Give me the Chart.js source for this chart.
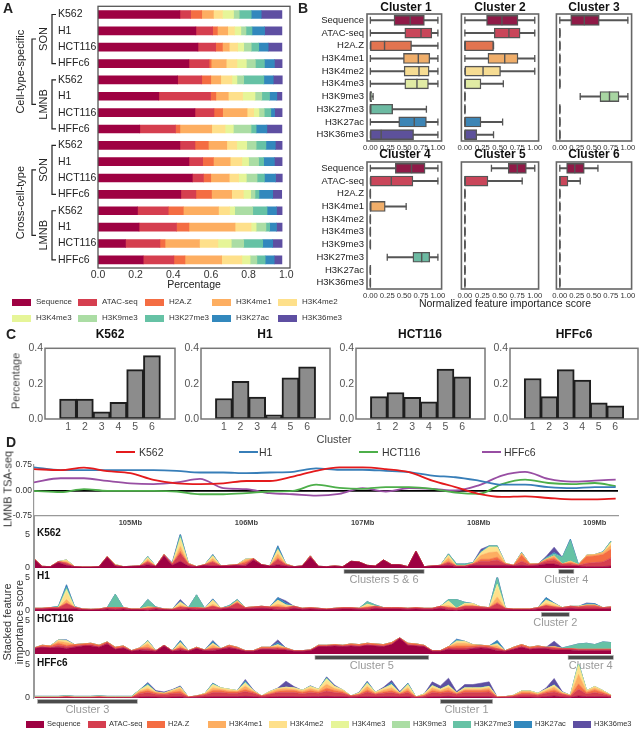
<!DOCTYPE html>
<html>
<head>
<meta charset="utf-8">
<title>Feature importance figure</title>
<script src="https://cdn.jsdelivr.net/npm/chart.js@4.4.1/dist/chart.umd.min.js"></script>
<style>
  html,body{margin:0;padding:0;background:#fff}
  #fig{position:relative;width:640px;height:730px;overflow:hidden;font-family:"Liberation Sans",Arial,sans-serif;color:#222}
  #fig canvas{position:absolute}
  .lbl{position:absolute;white-space:nowrap;line-height:1;transform:translate(-50%,-50%)}
  .lbl.left{transform:translate(0,-50%)}
  .lbl.rot{transform:translate(-50%,-50%) rotate(-90deg)}
  .sw{position:absolute}
</style>
</head>
<body>
<div id="fig"></div>
<script>
'use strict';
// ---------- shared ----------
const FEATURES = ['Sequence','ATAC-seq','H2A.Z','H3K4me1','H3K4me2','H3K4me3','H3K9me3','H3K27me3','H3K27ac','H3K36me3'];
const SPECTRAL = ['#9e0142','#d53e4f','#f46d43','#fdae61','#fee08b','#e6f598','#abdda4','#66c2a5','#3288bd','#5e4fa2'];
const BOX_COLORS = ['#8f1a47','#c9465a','#e27450','#f0ae6a','#f6dc93','#e1eba4','#a8d5a2','#6cbaa2','#3d85b5','#5d519a'];

// ---------- panel A: stacked shares ----------
const A_LABELS = ['K562','H1','HCT116','HFFc6','K562','H1','HCT116','HFFc6','K562','H1','HCT116','HFFc6','K562','H1','HCT116','HFFc6'];
const A_SEQ    = [0.435,0.520,0.531,0.483,0.423,0.323,0.515,0.222,0.435,0.483,0.501,0.440,0.210,0.218,0.146,0.240];
const A_ATAC   = [0.057,0.089,0.094,0.107,0.128,0.275,0.101,0.190,0.080,0.073,0.059,0.080,0.163,0.199,0.183,0.163];
const A_H2AZ   = [0.059,0.025,0.036,0.011,0.048,0.028,0.046,0.023,0.071,0.057,0.039,0.083,0.080,0.066,0.027,0.059];
const A_K4ME1  = [0.062,0.055,0.036,0.080,0.053,0.066,0.130,0.169,0.098,0.089,0.098,0.107,0.187,0.245,0.183,0.195];
const A_K4ME2  = [0.048,0.036,0.045,0.057,0.059,0.076,0.035,0.071,0.053,0.062,0.050,0.062,0.059,0.085,0.098,0.107];
const A_K4ME3  = [0.059,0.034,0.032,0.050,0.027,0.066,0.028,0.044,0.053,0.036,0.041,0.039,0.027,0.027,0.071,0.044];
const A_K9ME3  = [0.030,0.027,0.040,0.048,0.036,0.036,0.028,0.094,0.050,0.053,0.057,0.023,0.096,0.052,0.066,0.036];
const A_K27ME3 = [0.064,0.032,0.040,0.048,0.107,0.041,0.035,0.027,0.052,0.027,0.039,0.021,0.076,0.020,0.101,0.044];
const A_K27AC  = [0.053,0.067,0.050,0.053,0.050,0.039,0.020,0.057,0.050,0.057,0.059,0.073,0.050,0.036,0.053,0.048];
const A_K36ME3 = [0.110,0.092,0.073,0.041,0.048,0.027,0.040,0.080,0.036,0.041,0.036,0.048,0.030,0.030,0.050,0.041];
const A_GROUPS = [[0,3,'SON'],[4,7,'LMNB'],[8,11,'SON'],[12,15,'LMNB']];
const A_OUTER = [[0,1,'Cell-type-specific'],[2,3,'Cross-cell-type']];

// ---------- panel B: boxes [min, q1, median, q3, max] per feature ----------
const BOX_C1 = [[0,.35,.59,.80,1],[0,.51,.75,.91,1],[0,0,.21,.61,1],[0,.49,.71,.88,1],[0,.50,.72,.87,1],[0,.51,.69,.86,1],[0,0,0,.02,.04],[0,0,0,.33,.83],[0,.42,.65,.83,1],[0,0,.16,.64,1]];
const BOX_C2 = [[0,.31,.53,.76,1],[0,.42,.63,.79,1],[0,0,0,.41,.41],[0,.33,.57,.76,1],[0,0,.26,.51,1],[0,0,0,.23,.55],[0,0,0,0,0],[0,0,0,0,0],[0,0,0,.23,.54],[0,0,0,.17,.41]];
const BOX_C3 = [[0,.16,.36,.58,1],[0,0,0,0,0],[0,0,0,0,0],[0,0,0,0,0],[0,0,0,0,0],[0,0,0,0,0],[.30,.59,.73,.87,1],[0,0,0,0,0],[0,0,0,0,0],[0,0,0,0,0]];
const BOX_C4 = [[0,.37,.61,.81,1],[0,0,.31,.63,1],[0,0,0,0,0],[0,0,0,.22,.53],[0,0,0,0,0],[0,0,0,0,0],[0,0,0,0,0],[.25,.63,.76,.88,1],[0,0,0,0,0],[0,0,0,0,0]];
const BOX_C5 = [[.38,.62,.75,.88,1],[0,0,0,.33,.82],[0,0,0,0,0],[0,0,0,0,0],[0,0,0,0,0],[0,0,0,0,0],[0,0,0,0,0],[0,0,0,0,0],[0,0,0,0,0],[0,0,0,0,0]];
const BOX_C6 = [[0,.10,.22,.36,.56],[0,0,0,.12,.30],[0,0,0,0,0],[0,0,0,0,0],[0,0,0,0,0],[0,0,0,0,0],[0,0,0,0,0],[0,0,0,0,0],[0,0,0,0,0],[0,0,0,0,0]];
const B_TICKS = [0,0.25,0.5,0.75,1];

// ---------- panel C: cluster shares ----------
const C_CLUSTERS = [1,2,3,4,5,6];
const C_K562   = [0.112,0.112,0.041,0.094,0.279,0.359];
const C_H1     = [0.116,0.213,0.124,0.023,0.233,0.295];
const C_HCT116 = [0.127,0.150,0.123,0.097,0.282,0.238];
const C_HFFC6  = [0.229,0.127,0.279,0.220,0.092,0.074];

// ---------- panel D: LMNB TSA-seq ----------
const LINE_X = [104.17,104.4,104.6,104.8,105.0,105.2,105.4,105.6,105.8,106.0,106.2,106.4,106.6,106.8,107.0,107.2,107.4,107.6,107.8,108.0,108.2,108.4,108.6,108.8,109.0,109.18];
const TSA_K562   = [0.63,0.60,0.67,0.57,0.51,0.31,0.21,0.19,0.21,0.28,0.28,0.41,0.58,0.68,0.68,0.63,0.54,0.29,0.10,-0.10,-0.19,-0.17,-0.22,-0.26,-0.26,-0.24];
const TSA_H1     = [0.68,0.60,0.60,0.60,0.60,0.60,0.58,0.53,0.53,0.51,0.53,0.55,0.65,0.61,0.61,0.58,0.54,0.44,0.39,0.29,0.17,0.17,0.10,0.07,0.10,0.10];
const TSA_HCT116 = [-0.01,-0.05,0.04,-0.01,-0.01,-0.01,-0.03,-0.11,-0.11,-0.08,-0.03,-0.01,0.17,0.08,0.05,0.10,0.10,0.05,-0.06,-0.10,0.19,0.32,0.22,0.19,0.22,0.13];
const TSA_HFFC6  = [0.24,0.36,0.36,0.28,0.21,0.19,0.24,0.34,0.07,0.04,-0.08,-0.11,-0.15,-0.10,0.07,-0.03,0.07,0.05,0.0,0.15,0.44,0.55,0.34,0.26,0.29,0.32];
const CELL_LINES = ['K562','H1','HCT116','HFFc6'];
const LINE_COLORS = ['#e41a1c','#377eb8','#4daf4a','#984ea3'];

// ---------- panel D: stacked feature importance tracks ----------
const TRACK_X = [
  104.17,104.24,104.31,104.38,104.45,104.52,104.59,104.66,104.73,104.80,104.87,104.94,
  105.01,105.08,105.15,105.22,105.29,105.36,105.43,105.50,105.57,105.64,105.71,105.78,
  105.85,105.92,105.99,106.06,106.13,106.20,106.27,106.34,106.41,106.48,106.55,106.62,
  106.69,106.76,106.83,106.90,106.97,107.04,107.11,107.18,107.25,107.32,107.39,107.46,
  107.53,107.60,107.67,107.74,107.81,107.88,107.95,108.02,108.09,108.16,108.23,108.30,
  108.37,108.44,108.51,108.58,108.65,108.72,108.79,108.86,108.93,109.00,109.07,109.14];

const K562_SEQ = [
  1.3,.2,.2,.8,.4,.2,.15,.15,.2,1.6,.3,.2,
  .25,.3,.5,.25,1.8,.4,1.0,.3,.2,.4,.3,.3,
  .3,.4,.3,1.2,.5,.3,.5,.3,.2,.3,1.6,.25,
  .2,.3,.2,1.0,.9,.4,.3,1.2,.5,.5,.2,2.5,
  .2,.3,.3,.4,.2,.2,.4,.4,.4,.4,.4,.3,
  .4,.3,.4,.6,.6,.3,.3,.3,.2,.2,.2,.3];
const K562_ATAC = [
  .1,.05,0,.15,.3,0,0,0,0,.1,.1,0,
  0,0,.4,0,.2,.2,1.2,.3,0,.1,.6,0,
  .1,.1,.3,.2,0,0,.8,.2,0,0,.2,0,
  0,0,0,0,0,0,0,0,0,0,0,0,
  0,0,.1,.4,.1,.1,.2,.6,.6,.8,.2,.1,
  .6,.2,.2,.4,.6,.3,.3,.1,.5,.6,.7,1.2];
const K562_H2AZ = [
  0,0,0,0,.1,0,0,0,0,0,0,0,
  0,0,.1,0,0,0,.3,0,0,0,.1,0,
  0,0,.3,0,0,0,.2,0,0,0,0,0,
  0,0,0,0,0,0,0,0,0,0,0,0,
  0,0,0,.2,0,0,0,.3,.3,.4,0,0,
  .9,.1,0,.2,.3,0,.2,.1,1.0,1.0,1.1,1.3];
const K562_K4ME1 = [
  0,0,0,0,.2,0,0,0,0,0,.1,0,
  0,0,.3,0,0,0,.7,.1,0,0,.4,0,
  0,0,.3,0,0,0,.6,.1,0,0,0,0,
  0,0,0,0,0,0,0,0,0,0,0,0,
  0,0,0,.5,0,0,.1,.6,1.0,.8,.1,0,
  .3,0,0,.1,.3,0,.2,0,.2,.2,.3,.6];
const K562_K4ME2 = [
  0,0,0,0,.2,0,0,0,0,0,0,0,
  0,0,.2,0,0,0,1.0,0,0,0,.4,0,
  0,0,.1,0,0,0,.6,0,0,0,0,0,
  0,0,0,0,0,0,0,0,0,0,0,0,
  0,0,0,.4,0,0,0,.4,.8,.7,0,0,
  0,0,0,0,0,0,0,0,0,0,0,.4];
const K562_K4ME3 = [
  0,0,0,0,0,0,0,0,0,0,0,0,
  0,0,.1,0,0,0,.3,0,0,0,0,0,
  0,0,0,0,0,0,0,0,0,0,0,0,
  0,0,0,0,0,0,0,0,0,0,0,0,
  0,0,0,0,0,0,0,0,0,0,0,0,
  0,0,0,0,0,0,0,0,0,0,0,0];
const K562_K27ME3 = [
  0,0,0,0,0,0,0,0,0,0,0,0,
  0,0,.1,0,0,0,.3,0,0,0,.1,0,
  0,0,0,0,0,0,.2,0,0,0,0,0,
  0,0,0,0,0,0,0,0,0,0,0,0,
  0,0,0,.2,.3,.3,.1,0,.2,.2,0,0,
  .1,0,0,.2,.3,1.0,3.1,0,0,0,.1,.2];
const K562_K27AC = [
  0,0,0,0,0,0,0,0,0,0,0,0,
  0,0,0,0,0,0,.3,0,0,0,.1,0,
  0,0,0,0,0,0,.4,0,0,0,0,0,
  0,0,0,0,0,0,0,0,0,0,0,0,
  0,0,0,0,0,0,0,.2,0,0,0,0,
  0,0,0,0,.2,0,.2,0,0,0,0,0];
const K562_K36ME3 = [
  0,0,0,0,0,0,0,0,0,0,0,0,
  0,0,0,0,0,.2,0,0,0,0,0,0,
  0,0,0,0,0,0,0,0,0,0,0,0,
  0,0,0,0,0,0,0,0,0,0,0,0,
  0,0,0,0,0,0,0,.3,0,0,0,0,
  0,0,0,.2,.8,0,0,0,0,0,0,0];

const H1_SEQ = [
  .25,.25,.3,.3,.3,.35,.2,.15,.2,.3,.2,.3,
  .2,.2,.1,.3,.2,.15,.2,.3,.2,.25,.2,.25,
  .4,.3,.3,.35,.4,.35,.2,.2,.4,.25,.3,.25,
  .2,.25,.3,.3,.25,.2,.4,.3,.3,.3,.25,.3,
  .25,.25,.4,.2,.1,.3,.3,.3,.3,.3,.25,.2,
  .2,.2,.3,.3,.3,.3,.4,.3,.3,.3,.3,.35];
const H1_ATAC = [
  .15,.15,.2,.2,.8,.2,.1,.1,.1,.2,.3,.2,
  .1,.1,.3,.2,.1,.1,.4,.2,.3,.15,.5,.15,
  .2,.9,.2,.25,.3,.25,.4,.3,.3,.15,.2,.15,
  .1,.15,.2,.2,.15,.3,.3,.2,.2,.2,.15,.2,
  .15,.15,.3,.3,.3,.4,.4,.3,.2,.8,.15,.1,
  .1,.1,.2,.5,.3,.2,.3,.3,.4,.4,.2,.25];
const H1_H2AZ = [
  0,0,0,0,.1,0,0,0,0,0,0,0,
  0,0,0,0,0,0,0,0,0,0,0,0,
  0,0,0,0,0,0,0,0,0,0,0,0,
  0,0,0,0,0,0,0,0,0,0,0,0,
  0,0,0,0,0,0,0,0,0,.2,0,0,
  0,0,0,0,0,0,0,0,.1,.1,0,0];
const H1_K4ME1 = [
  0,0,0,0,.5,0,0,0,0,0,0,0,
  0,0,.2,0,0,0,.3,0,0,0,.3,0,
  0,.3,0,0,0,0,.4,.2,0,0,0,0,
  0,0,0,0,0,.2,0,0,0,0,0,0,
  0,0,0,.3,0,.2,.2,0,0,.8,0,0,
  0,0,0,.3,.2,0,0,0,.1,.1,0,0];
const H1_K4ME2 = [
  0,0,0,0,1.2,0,0,0,0,0,0,0,
  0,0,0,0,0,0,.4,0,0,0,.6,0,
  0,0,0,0,0,0,.6,.2,0,0,0,0,
  0,0,0,0,0,.3,0,0,0,0,0,0,
  0,0,0,.6,0,.2,.2,0,0,1.6,0,0,
  0,0,0,.5,.3,0,0,.1,0,0,0,0];
const H1_K4ME3 = [
  0,0,0,0,.3,0,0,0,0,0,0,0,
  0,0,0,0,0,0,0,0,0,0,0,0,
  0,0,0,0,0,0,0,0,0,0,0,0,
  0,0,0,0,0,0,0,0,0,0,0,0,
  0,0,0,.1,0,0,0,0,0,.3,0,0,
  0,0,0,0,0,0,0,0,0,0,0,0];
const H1_K27ME3 = [
  0,0,0,.2,.3,.1,0,0,0,0,2.0,0,
  0,0,1.1,.1,0,0,0,0,1.9,0,0,0,
  .2,.2,0,0,0,0,0,0,0,0,0,0,
  0,0,0,0,0,.4,.2,0,0,0,0,0,
  0,0,0,.2,1.3,.2,0,0,0,1.0,0,0,
  0,0,0,.1,0,0,0,0,0,0,0,0];
const H1_K27AC = [
  0,0,0,0,.4,0,0,0,0,0,0,0,
  0,0,0,0,0,0,.2,0,0,0,.2,0,
  0,0,0,0,0,0,.4,.3,0,0,0,0,
  0,0,0,0,0,0,0,0,0,0,0,0,
  0,0,0,0,0,0,0,0,0,.2,0,0,
  0,0,0,.3,.1,0,0,0,.2,.2,0,0];
const H1_K36ME3 = [
  0,0,0,0,0,0,0,0,0,0,0,0,
  0,0,0,0,0,0,.2,0,0,0,0,0,
  0,0,0,0,0,0,0,.3,0,0,0,0,
  0,0,0,0,0,0,0,0,0,0,0,0,
  0,0,0,0,0,0,0,0,0,0,0,0,
  0,0,0,0,0,0,0,0,.1,0,0,0];

const HCT_SEQ = [
  .8,1.0,.9,1.0,.8,1.0,1.2,1.2,1.0,1.5,.7,.9,
  .4,.6,.5,.4,1.2,.4,.6,.4,.8,.5,.5,.7,
  .9,.7,.4,.4,.7,.7,.6,.6,.4,.4,.5,1.1,
  1.1,1.2,1.1,1.2,1.1,1.3,1.2,1.1,1.4,2.3,1.3,1.2,
  1.1,.4,.4,.7,.6,.6,.8,.9,.8,.5,.4,.7,
  1.0,.7,.8,.8,.6,.6,.6,.5,.5,.5,.5,.5];
const HCT_ATAC = [
  .1,.1,.1,.3,.3,.2,.1,.2,.1,.2,.1,.1,
  .1,.1,.3,.1,.1,.1,.3,.1,.1,.1,.3,.1,
  .2,.1,.1,.1,.1,.1,.3,.1,.1,.1,.1,.1,
  .1,.1,.1,.1,.1,.1,.1,.1,.1,.1,.1,.1,
  .1,.1,.1,.2,.3,.3,.2,.2,.2,.3,.1,.1,
  .2,.1,.2,.2,.3,.2,.2,.2,.2,.2,.2,.2];
const HCT_H2AZ = [
  0,.2,.2,.3,.2,.2,.2,.2,.2,.1,.2,.2,
  0,.2,.2,0,0,0,0,0,.1,0,.1,0,
  .2,.2,0,0,.2,.2,0,.2,0,0,0,.1,
  .1,.1,.1,.2,.2,.2,.2,.2,.2,0,.2,.2,
  .1,0,0,.2,.3,.3,.2,.2,.2,0,0,.2,
  .2,.2,.2,0,0,0,0,0,0,0,0,0];
const HCT_K4ME1 = [
  0,0,0,.3,.4,0,0,0,0,0,0,0,
  0,0,.5,0,0,0,.4,0,0,0,.4,0,
  0,0,0,0,0,0,.3,0,0,0,0,0,
  0,0,0,0,0,0,0,0,0,0,0,0,
  0,0,0,0,.4,.4,.2,0,0,.4,0,0,
  0,0,0,0,.2,0,0,0,0,0,0,0];
const HCT_K4ME2 = [
  0,0,0,.2,.3,0,0,0,0,0,0,0,
  0,0,.4,0,0,0,.4,0,0,0,.3,0,
  0,0,0,0,0,0,.2,0,0,0,0,0,
  0,0,0,0,0,0,0,0,0,0,0,0,
  0,0,0,0,.3,.3,0,0,0,.3,0,0,
  0,0,0,0,0,0,0,0,0,0,0,0];
const HCT_K27ME3 = [
  0,0,0,0,0,0,0,0,0,0,0,0,
  0,0,.1,0,0,0,.1,0,0,0,0,0,
  0,0,0,0,0,0,0,0,0,0,0,0,
  0,0,0,0,0,0,0,0,0,0,0,0,
  0,0,0,0,.1,0,0,0,0,.1,0,0,
  0,0,0,0,0,.1,.4,.8,.9,.7,1.1,1.0];
const HCT_K27AC = [
  0,0,0,0,.1,0,0,0,0,0,0,0,
  0,0,0,0,0,0,.2,0,0,0,.3,0,
  0,0,0,0,0,0,.3,0,0,0,0,0,
  0,0,0,0,0,0,0,0,0,0,0,0,
  0,0,0,0,.2,0,0,0,0,.4,0,0,
  0,0,0,0,0,0,0,0,0,0,0,0];
const HCT_K36ME3 = [
  0,0,0,0,0,0,0,0,0,0,0,0,
  0,0,0,0,0,0,0,0,0,0,.1,0,
  0,0,0,0,0,0,.4,0,0,0,0,0,
  0,0,0,0,0,0,0,0,0,0,0,0,
  0,0,0,0,0,0,0,0,0,0,0,0,
  0,0,0,0,.8,0,0,0,0,0,0,0];

const HFF_SEQ = [
  .05,.05,.05,.05,.1,.05,.05,.05,.08,.05,.05,.05,
  .05,.15,.2,.15,.1,.15,.2,.05,.1,.15,.2,.2,
  .2,.2,.25,.2,.1,.15,.2,.2,.2,.15,.2,.2,
  .25,.2,.2,.1,.15,.2,.15,.2,.2,.15,.2,.05,
  .1,.2,.2,.25,.15,.2,.2,.2,.2,.05,.05,.1,
  .15,.15,.1,.2,.3,.15,.1,.3,.2,.2,.2,.1];
const HFF_ATAC = [
  .05,.05,.05,.05,.1,.05,.05,.05,.1,.05,.05,.05,
  .05,.5,.6,.4,.4,.5,.5,.1,.2,.3,.6,.6,
  .5,.5,.7,.5,.2,.4,.6,.6,.6,.5,.6,.5,
  .8,.6,.5,.2,.3,.7,.4,.5,.6,.4,.6,.1,
  .2,.6,.5,.6,.4,.6,.6,.6,.7,.1,.15,.2,
  .4,.4,.3,.5,.6,.4,.2,1.0,.4,.6,.4,.2];
const HFF_H2AZ = [
  0,0,0,0,0,0,0,0,0,0,0,0,
  0,.2,.3,.2,.1,.2,.3,0,0,.1,.3,.3,
  .2,.2,.3,.2,0,.1,.2,.3,.3,.2,.3,.2,
  .4,.3,.2,0,.1,.3,.1,.2,.3,.1,.3,0,
  .1,.3,.2,.3,.1,.3,.3,.3,.3,0,0,0,
  .2,.2,.1,.2,.3,.1,0,.8,.2,.4,.2,.05];
const HFF_K4ME1 = [
  0,0,0,0,0,0,0,0,0,0,0,0,
  0,.2,.3,.1,.1,.2,.4,0,0,.1,.4,.2,
  .2,.1,.5,.1,0,.2,.3,.3,.2,.2,.3,.2,
  .6,.3,.2,0,.1,.5,.1,.3,.4,.1,.4,0,
  .1,.4,.2,.4,.1,.2,.2,.2,.3,0,0,.1,
  .2,.2,.1,.2,.4,.1,.1,1.4,.2,.3,.2,.05];
const HFF_K4ME2 = [
  0,0,0,0,0,0,0,0,0,0,0,0,
  0,.1,.4,.05,0,.1,.2,0,0,0,.4,.2,
  .2,.1,.4,.1,0,.1,.1,.2,.2,.1,.3,.2,
  .6,.3,.1,0,.1,.4,.1,.2,.4,0,.4,0,
  .1,.3,.2,.3,0,.2,.2,.2,.2,0,0,0,
  .1,.1,.1,.2,.3,.1,0,1.2,.1,.2,.1,0];
const HFF_K4ME3 = [
  0,0,0,0,0,0,0,0,0,0,0,0,
  0,0,.1,0,0,0,0,0,0,0,.1,0,
  0,0,.1,0,0,0,0,0,0,0,0,0,
  .2,0,0,0,0,.1,0,0,.1,0,.1,0,
  0,0,0,0,0,0,0,0,0,0,0,0,
  0,0,0,0,0,0,0,.3,0,0,0,0];
const HFF_K9ME3 = [
  .12,.12,.12,.12,.12,.12,.12,.12,.12,.12,.12,.12,
  .12,.05,0,0,0,0,0,0,0,0,0,0,
  0,0,0,0,0,0,0,0,0,0,0,0,
  0,0,0,0,0,0,0,0,0,0,0,0,
  0,0,0,0,0,0,0,0,0,0,0,0,
  0,0,0,0,0,0,0,0,0,0,0,0];
const HFF_K27ME3 = [
  .03,.03,.03,.03,.03,.03,.03,.03,.03,.03,.03,.03,
  .03,0,.1,0,0,0,0,0,0,0,.1,0,
  0,0,.1,0,0,0,0,0,0,0,0,0,
  .1,0,0,0,0,.1,0,0,0,0,.1,0,
  0,.1,0,.1,0,0,0,0,0,0,0,0,
  0,0,0,0,0,0,0,.2,0,0,0,0];
const HFF_K27AC = [
  0,0,0,0,0,0,0,0,0,0,0,0,
  0,0,.2,0,0,0,.1,0,0,0,.1,0,
  0,0,.2,0,0,0,0,0,0,0,.1,0,
  .1,0,0,0,0,.1,0,0,.3,0,.1,0,
  0,0,0,0,0,.1,0,.1,.1,0,0,0,
  0,0,0,0,.1,0,0,0,0,0,0,0];
const HFF_K36ME3 = [
  0,0,0,0,0,0,0,0,0,0,0,0,
  0,0,.1,.2,.2,.1,.1,0,0,0,0,0,
  0,0,.2,.1,0,0,.1,.9,.2,0,0,0,
  .1,.2,0,0,.1,.1,0,.2,.3,.2,0,0,
  0,.5,.5,1.0,.2,.4,.5,.6,.6,0,0,0,
  0,0,0,.2,.9,.1,0,0,0,0,0,0];

// cluster regions marked under each track: [start Mb, end Mb, text]
const K562_REGIONS = [[106.84,107.53,'Clusters 5 & 6'],[108.69,108.82,'Cluster 4']];
const H1_REGIONS = [[108.54,108.78,'Cluster 2']];
const HCT_REGIONS = [[106.59,107.57,'Cluster 5'],[108.77,109.16,'Cluster 4']];
const HFF_REGIONS = [[104.20,105.06,'Cluster 3'],[107.67,108.12,'Cluster 1']];
const X_MIN = 104.17, X_MAX = 109.2;

// ---------- helpers ----------
Chart.defaults.font.family = '"Liberation Sans", Arial, sans-serif';
Chart.defaults.color = '#333';
Chart.defaults.animation = false;
Chart.defaults.responsive = false;
Chart.defaults.plugins.legend.display = false;
Chart.defaults.plugins.tooltip.enabled = false;

const fig = document.getElementById('fig');
function canvasAt(left, top, w, h) {
  const c = document.createElement('canvas');
  c.width = w; c.height = h;
  c.style.left = left + 'px'; c.style.top = top + 'px';
  c.style.width = w + 'px'; c.style.height = h + 'px';
  fig.appendChild(c);
  return c;
}
function label(text, x, y, css, cls) {
  const d = document.createElement('div');
  d.className = 'lbl' + (cls ? ' ' + cls : '');
  d.textContent = text;
  d.style.left = x + 'px'; d.style.top = y + 'px';
  if (css) d.style.cssText += css;
  fig.appendChild(d);
}
function swatch(x, y, w, h, color) {
  const d = document.createElement('div');
  d.className = 'sw';
  d.style.cssText = `left:${x}px;top:${y - h / 2}px;width:${w}px;height:${h}px;background:${color}`;
  fig.appendChild(d);
}
const frame = (color, width) => ({
  id: 'frame',
  afterDraw(chart) {
    const a = chart.chartArea, ctx = chart.ctx;
    ctx.save(); ctx.strokeStyle = color; ctx.lineWidth = width;
    ctx.strokeRect(a.left, a.top, a.right - a.left, a.bottom - a.top);
    ctx.restore();
  }
});
const noGrid = {display: false, drawTicks: false};

// ---------- A ----------
const A_TABLE = [A_SEQ, A_ATAC, A_H2AZ, A_K4ME1, A_K4ME2, A_K4ME3, A_K9ME3, A_K27ME3, A_K27AC, A_K36ME3];
const brackets = {
  id: 'brackets',
  afterDraw(chart) {
    const y = chart.scales.y, ctx = chart.ctx;
    ctx.save();
    ctx.strokeStyle = '#222'; ctx.lineWidth = 1.2; ctx.fillStyle = '#222';
    ctx.font = '11px "Liberation Sans", Arial, sans-serif';
    ctx.textAlign = 'center'; ctx.textBaseline = 'middle';
    const mids = [];
    A_GROUPS.forEach(([a, b, name]) => {
      const y1 = y.getPixelForValue(a), y2 = y.getPixelForValue(b);
      ctx.beginPath(); ctx.moveTo(56, y1); ctx.lineTo(52, y1); ctx.lineTo(52, y2); ctx.lineTo(56, y2); ctx.stroke();
      const m = (y1 + y2) / 2; mids.push(m);
      ctx.save(); ctx.translate(44, m); ctx.rotate(-Math.PI / 2); ctx.fillText(name, 0, 0); ctx.restore();
    });
    A_OUTER.forEach(([a, b, name]) => {
      const y1 = mids[a], y2 = mids[b];
      ctx.beginPath(); ctx.moveTo(36, y1); ctx.lineTo(32, y1); ctx.lineTo(32, y2); ctx.lineTo(36, y2); ctx.stroke();
      ctx.save(); ctx.translate(21, (y1 + y2) / 2); ctx.rotate(-Math.PI / 2); ctx.fillText(name, 0, 0); ctx.restore();
    });
    ctx.restore();
  }
};
new Chart(canvasAt(0, 0, 300, 282), {
  type: 'bar',
  data: {labels: A_LABELS, datasets: FEATURES.map((f, i) => ({label: f, data: A_TABLE[i], backgroundColor: SPECTRAL[i], barThickness: 8}))},
  options: {
    indexAxis: 'y',
    layout: {padding: {left: 58, top: 5, right: 10, bottom: 0}},
    scales: {
      x: {stacked: true, min: 0, max: 1.02, grid: noGrid, border: {display: false},
          ticks: {stepSize: 0.2, includeBounds: false, padding: 1, font: {size: 10.5}, color: '#333', callback: v => v.toFixed(1)},
          afterFit: s => { s.height = 14; }},
      y: {stacked: true, grid: noGrid, border: {display: false},
          ticks: {crossAlign: 'far', padding: 0, autoSkip: false, font: {size: 10.5}, color: '#222'},
          afterFit: s => { s.width = 40; }}
    }
  },
  plugins: [frame('#555', 1.3), brackets]
});
label('A', 8, 8, 'font-weight:bold;font-size:14px');
label('Percentage', 194, 284, 'font-size:10.5px');
[[12, 302, 0], [78, 302, 1], [145, 302, 2], [212, 302, 3], [278, 302, 4],
 [12, 318, 5], [78, 318, 6], [145, 318, 7], [212, 318, 8], [278, 318, 9]].forEach(([x, y, i]) => {
  swatch(x, y, 19, 7, SPECTRAL[i]);
  label(FEATURES[i], x + 24, y, 'font-size:8px;color:#333', 'left');
});

// ---------- B ----------
function boxChart(left, top, w, h, padTop, boxes, showY) {
  const cells = boxes.map((b, i) => FEATURES[i]);
  new Chart(canvasAt(left, top, w, h), {
    type: 'bar',
    data: {
      labels: FEATURES,
      datasets: [
        {data: boxes.map(b => [b[0], b[4]]), backgroundColor: '#555', barThickness: 1.3, grouped: false, order: 3},
        {data: boxes.map(b => [b[1], b[3]]), backgroundColor: BOX_COLORS, borderColor: '#555', borderWidth: 1.4,
         borderSkipped: false, barThickness: 10, grouped: false, order: 2},
        {type: 'scatter', data: boxes.map((b, i) => ({x: b[2], y: cells[i]})), pointStyle: 'line', pointRotation: 90,
         pointRadius: 5, pointBorderColor: '#555', pointBorderWidth: 1.4, order: 1},
        {type: 'scatter', data: boxes.flatMap((b, i) => [{x: b[0], y: cells[i]}, {x: b[4], y: cells[i]}]), pointStyle: 'line',
         pointRotation: 90, pointRadius: 3.5, pointBorderColor: '#555', pointBorderWidth: 1.3, order: 1}
      ]
    },
    options: {
      indexAxis: 'y',
      layout: {padding: {left: showY ? 0 : 2, top: padTop, right: 2, bottom: 0}},
      scales: {
        x: {type: 'linear', min: -0.05, max: 1.055, grid: noGrid, border: {display: false},
            afterBuildTicks: s => { s.ticks = B_TICKS.map(v => ({value: v})); },
            ticks: {padding: 2, autoSkip: false, maxRotation: 0, font: {size: 7.7}, color: '#333', callback: v => v.toFixed(2)},
            afterFit: s => { s.height = 13; }},
        y: {type: 'category', display: showY, offset: true, grid: noGrid, border: {display: false},
            ticks: {padding: 3, autoSkip: false, font: {size: 9.5}, color: '#222'},
            afterFit: s => { s.width = showY ? 51 : 0; }}
      }
    },
    plugins: [frame('#666', 1.6)]
  });
}
boxChart(316, 0, 132, 154, 14, BOX_C1, true);
boxChart(455, 0, 90, 154, 14, BOX_C2, false);
boxChart(550, 0, 88, 154, 14, BOX_C3, false);
boxChart(316, 150, 132, 152, 12, BOX_C4, true);
boxChart(455, 150, 90, 152, 12, BOX_C5, false);
boxChart(550, 150, 88, 152, 12, BOX_C6, false);
label('B', 303, 8, 'font-weight:bold;font-size:14px');
[['Cluster 1', 406, 7], ['Cluster 2', 500, 7], ['Cluster 3', 594, 7],
 ['Cluster 4', 405, 154], ['Cluster 5', 500, 154], ['Cluster 6', 594, 154]].forEach(([t, x, y]) =>
  label(t, x, y, 'font-weight:bold;font-size:12px;color:#111'));
label('Normalized feature importance score', 505, 303, 'font-size:10.5px');

// ---------- C ----------
function clusterBars(left, w, values) {
  new Chart(canvasAt(left, 340, w, 95), {
    type: 'bar',
    data: {datasets: [{data: C_CLUSTERS.map((c, i) => ({x: c, y: values[i]})), backgroundColor: '#8c8c8c',
                       borderColor: '#1e1e1e', borderWidth: 2, borderSkipped: false, barThickness: 17}]},
    options: {
      layout: {padding: {left: 0, top: 4, right: 2, bottom: 0}},
      scales: {
        x: {type: 'linear', min: 0.27, max: 6.73, grid: noGrid, border: {display: false},
            ticks: {stepSize: 1, includeBounds: false, padding: 2, font: {size: 10.5}, color: '#555'},
            afterFit: s => { s.height = 16; }},
        y: {min: 0, max: 0.4, grid: noGrid, border: {display: false},
            ticks: {stepSize: 0.2, padding: 2, font: {size: 10.5}, color: '#555', callback: v => v.toFixed(1)},
            afterFit: s => { s.width = 30; }}
      }
    },
    plugins: [frame('#777', 1.5)]
  });
}
clusterBars(15, 162, C_K562);
clusterBars(171, 161, C_H1);
clusterBars(326, 161, C_HCT116);
clusterBars(480, 160, C_HFFC6);
label('C', 11, 334, 'font-weight:bold;font-size:14px');
[['K562', 110], ['H1', 265], ['HCT116', 420], ['HFFc6', 574]].forEach(([t, x]) =>
  label(t, x, 334, 'font-weight:bold;font-size:12px;color:#111'));
label('Percentage', 16, 381, 'font-size:11px;color:#444', 'rot');
label('Cluster', 334, 439, 'font-size:11px;color:#444');

// ---------- D: TSA-seq lines ----------
const TSA = [TSA_K562, TSA_H1, TSA_HCT116, TSA_HFFC6];
new Chart(canvasAt(0, 455, 625, 75), {
  type: 'line',
  data: {datasets: CELL_LINES.map((n, i) => ({label: n, data: LINE_X.map((x, j) => ({x, y: TSA[i][j]})),
    borderColor: LINE_COLORS[i], borderWidth: 1.8, pointRadius: 0, cubicInterpolationMode: 'monotone'}))},
  options: {
    layout: {padding: {left: 0, top: 10, right: 7, bottom: 0}},
    scales: {
      x: {type: 'linear', min: X_MIN, max: X_MAX, grid: noGrid, border: {color: '#999', width: 1.2},
          ticks: {stepSize: 1, includeBounds: false, padding: 2, font: {size: 7.5, weight: 'bold'}, color: '#444', callback: v => v + 'Mb'},
          afterFit: s => { s.height = 14; }},
      y: {min: -0.75, max: 0.75, border: {color: '#999', width: 1.2},
          grid: {drawTicks: false, color: c => c.tick.value === 0 ? '#000' : 'rgba(0,0,0,0)', lineWidth: 1.8},
          ticks: {stepSize: 0.75, padding: 2, font: {size: 8.5}, color: '#333', callback: v => v.toFixed(2)},
          afterFit: s => { s.width = 34; }}
    }
  }
});
label('D', 11, 442, 'font-weight:bold;font-size:14px');
[[116, 139], [239, 259], [359, 382], [482, 504]].forEach(([lx, tx], i) => {
  swatch(lx, 452, 19, 2, LINE_COLORS[i]);
  label(CELL_LINES[i], tx, 452, 'font-size:10.5px;color:#333', 'left');
});
label('LMNB TSA-seq', 8, 489, 'font-size:11px;color:#333', 'rot');

// ---------- D: stacked tracks ----------
const regionMarks = regions => ({
  id: 'regions',
  afterDraw(chart) {
    const x = chart.scales.x, a = chart.chartArea, ctx = chart.ctx;
    ctx.save();
    regions.forEach(([s, e, text]) => {
      const x1 = x.getPixelForValue(s), x2 = x.getPixelForValue(e);
      ctx.fillStyle = '#4b4b4b';
      ctx.fillRect(x1, a.bottom + 1.5, x2 - x1, 4);
      ctx.strokeStyle = '#bbb'; ctx.lineWidth = 0.6;
      ctx.strokeRect(x1, a.bottom + 1.5, x2 - x1, 4);
      ctx.fillStyle = '#9a9a9a';
      ctx.font = '11px "Liberation Sans", Arial, sans-serif';
      ctx.textAlign = 'center'; ctx.textBaseline = 'middle';
      ctx.fillText(text, (x1 + x2) / 2, a.bottom + 12);
    });
    ctx.restore();
  }
});
function track(top, name, series, regions) {
  const datasets = [];
  series.forEach((vals, i) => {
    if (!vals) return;
    datasets.push({label: FEATURES[i], data: TRACK_X.map((x, j) => ({x, y: vals[j]})),
      backgroundColor: SPECTRAL[i], borderColor: SPECTRAL[i], borderWidth: 0.6,
      fill: datasets.length === 0 ? 'origin' : '-1', pointRadius: 0, tension: 0});
  });
  new Chart(canvasAt(0, top, 625, 62), {
    type: 'line',
    data: {datasets},
    options: {
      layout: {padding: {left: 0, top: 8, right: 7, bottom: 19}},
      scales: {
        x: {type: 'linear', min: X_MIN, max: X_MAX, display: false},
        y: {stacked: true, min: 0, max: 5, grid: noGrid, border: {color: '#999', width: 1.2},
            ticks: {stepSize: 5, padding: 4, font: {size: 9}, color: '#333'},
            afterFit: s => { s.width = 34; }}
      }
    },
    plugins: [regionMarks(regions)]
  });
  label(name, 37, top + 8, 'font-weight:bold;font-size:10px;color:#111', 'left');
}
track(525, 'K562', [K562_SEQ, K562_ATAC, K562_H2AZ, K562_K4ME1, K562_K4ME2, K562_K4ME3, null, K562_K27ME3, K562_K27AC, K562_K36ME3], K562_REGIONS);
track(568, 'H1', [H1_SEQ, H1_ATAC, H1_H2AZ, H1_K4ME1, H1_K4ME2, H1_K4ME3, null, H1_K27ME3, H1_K27AC, H1_K36ME3], H1_REGIONS);
track(611, 'HCT116', [HCT_SEQ, HCT_ATAC, HCT_H2AZ, HCT_K4ME1, HCT_K4ME2, null, null, HCT_K27ME3, HCT_K27AC, HCT_K36ME3], HCT_REGIONS);
track(655, 'HFFc6', [HFF_SEQ, HFF_ATAC, HFF_H2AZ, HFF_K4ME1, HFF_K4ME2, HFF_K4ME3, HFF_K9ME3, HFF_K27ME3, HFF_K27AC, HFF_K36ME3], HFF_REGIONS);
swatch(33.4, 607, 1.2, 182, '#999');
label('Stacked feature', 7, 622, 'font-size:11px;color:#333', 'rot');
label('importance score', 19, 622, 'font-size:11px;color:#333', 'rot');
[26, 88, 147, 208, 269, 331, 392, 453, 514, 573].forEach((x, i) => {
  swatch(x, 724, 18, 7, SPECTRAL[i]);
  label(FEATURES[i], x + 21, 724, 'font-size:7.5px;color:#333', 'left');
});
</script>
</body>
</html>
